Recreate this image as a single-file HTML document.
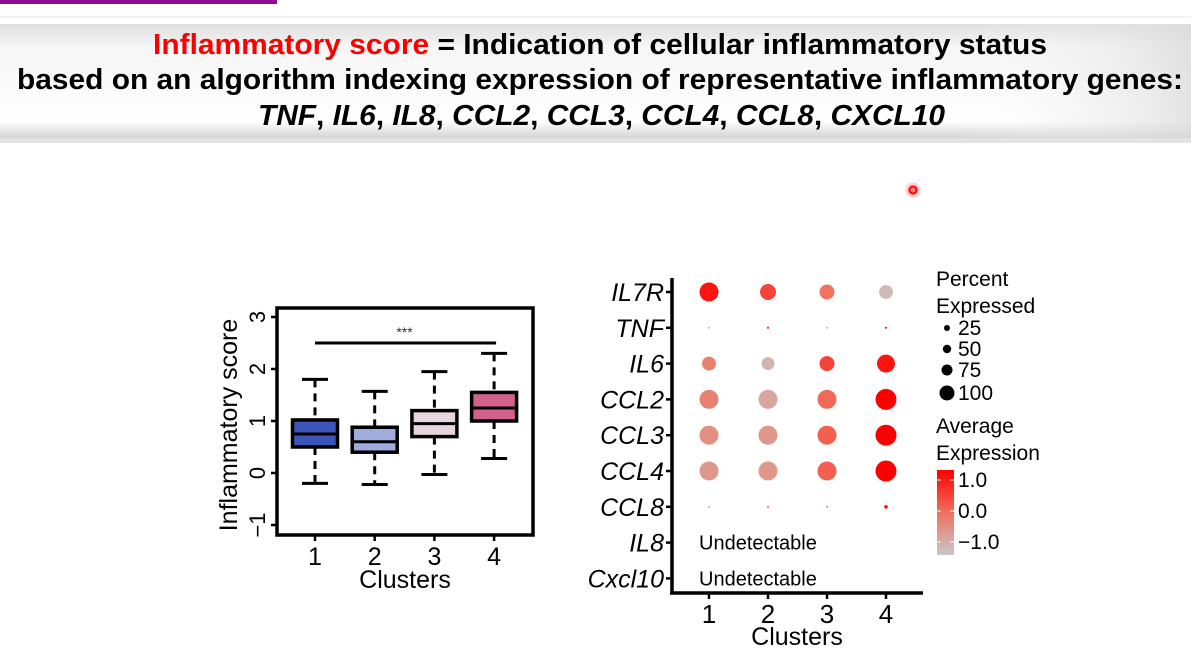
<!DOCTYPE html>
<html><head><meta charset="utf-8">
<style>
html,body{margin:0;padding:0;background:#fff;width:1191px;height:657px;overflow:hidden}
svg{display:block;font-family:"Liberation Sans",Arial,sans-serif}
</style></head>
<body>
<svg id="root" width="1191" height="657" viewBox="0 0 1191 657" xmlns="http://www.w3.org/2000/svg">
<defs>
<linearGradient id="bandg" x1="0" y1="0" x2="0" y2="1">
<stop offset="0" stop-color="#dedede"/><stop offset="0.2" stop-color="#f6f6f6"/><stop offset="0.85" stop-color="#ffffff"/><stop offset="1" stop-color="#d4d4d4"/></linearGradient>
<linearGradient id="bandh" x1="0" y1="0" x2="1" y2="0">
<stop offset="0" stop-color="#fff" stop-opacity="0"/><stop offset="0.8" stop-color="#fff" stop-opacity="0"/><stop offset="1" stop-color="#d8d8d8" stop-opacity="0.7"/></linearGradient>
<linearGradient id="cbar" x1="0" y1="1" x2="0" y2="0">
<stop offset="0" stop-color="#c8c8c8"/><stop offset="0.5" stop-color="#f07060"/><stop offset="1" stop-color="#ff0000"/></linearGradient>
<radialGradient id="glow"><stop offset="0" stop-color="#ff0000" stop-opacity="0.6"/><stop offset="1" stop-color="#ff0000" stop-opacity="0"/></radialGradient>
</defs>
<rect x="0" y="0" width="277" height="4" fill="#8e0a8e"/>
<line x1="0" y1="17" x2="1191" y2="17" stroke="#e4e4e4" stroke-width="1"/>
<g>
<rect x="0" y="138" width="1191" height="5" fill="#c8c8c8" opacity="0.5"/>
<rect x="0" y="24" width="1191" height="114" fill="url(#bandg)"/>
<rect x="0" y="24" width="1191" height="114" fill="url(#bandh)"/>
<text x="153" y="54" font-size="29" font-weight="bold" textLength="894" lengthAdjust="spacingAndGlyphs"><tspan fill="#ff0000">Inflammatory score</tspan><tspan fill="#000"> = Indication of cellular inflammatory status</tspan></text>
<text x="17" y="89" font-size="29" font-weight="bold" textLength="1166" lengthAdjust="spacingAndGlyphs">based on an algorithm indexing expression of representative inflammatory genes:</text>
<text x="258" y="125" font-size="29" font-weight="bold" textLength="687" lengthAdjust="spacingAndGlyphs"><tspan font-style="italic">TNF</tspan>, <tspan font-style="italic">IL6</tspan>, <tspan font-style="italic">IL8</tspan>, <tspan font-style="italic">CCL2</tspan>, <tspan font-style="italic">CCL3</tspan>, <tspan font-style="italic">CCL4</tspan>, <tspan font-style="italic">CCL8</tspan>, <tspan font-style="italic">CXCL10</tspan></text>
</g>
<g>
<circle cx="913" cy="190" r="9" fill="url(#glow)"/>
<circle cx="913" cy="190" r="3.5" fill="none" stroke="#ff0000" stroke-width="2"/>
</g>
<g id="box"></g>
<g id="dot"></g>
</svg>
<script>
// ---- Boxplot data ----
const boxCats = ["1","2","3","4"];
const boxLow = [-0.2, -0.22, -0.03, 0.28];
const boxQ1 = [0.5, 0.4, 0.7, 1.0];
const boxMed = [0.75, 0.6, 0.95, 1.25];
const boxQ3 = [1.02, 0.88, 1.2, 1.55];
const boxHigh = [1.8, 1.57, 1.95, 2.3];
const boxColors = ["#3b56b8","#9eacde","#e6d5de","#d2618c"];
const boxYTicks = [-1,0,1,2,3];
const sigLevel = 2.5;

// ---- Dot plot data ----
const genes = ["IL7R","TNF","IL6","CCL2","CCL3","CCL4","CCL8","IL8","Cxcl10"];
const dotCats = ["1","2","3","4"];
const pctC1 = [82, 1, 44, 82, 82, 82, 1, 0, 0];
const pctC2 = [58, 1, 38, 82, 82, 82, 1, 0, 0];
const pctC3 = [51, 1, 51, 82, 82, 82, 1, 0, 0];
const pctC4 = [44, 1, 73, 100, 100, 100, 3, 0, 0];
const expC1 = [1.0, -1, -0.2, -0.2, -0.4, -0.5, -0.8, 0, 0];
const expC2 = [0.5, 1, -0.9, -0.7, -0.5, -0.5, 0, 0, 0];
const expC3 = [0, -1, 0.5, 0.1, 0.2, 0.2, -0.3, 0, 0];
const expC4 = [-1, 1, 1.0, 1.2, 1.2, 1.2, 1, 0, 0];
const sizeLegend = [25, 50, 75, 100];
const colorTicks = [1.0, 0.0, -1.0];
const undetectable = ["IL8","Cxcl10"];

const NS="http://www.w3.org/2000/svg";
function mk(tag, attrs, parent){const e=document.createElementNS(NS,tag);for(const k in attrs)e.setAttribute(k,attrs[k]);parent.appendChild(e);return e;}

// Boxplot
const box=document.getElementById('box');


const bx=i=>315+i*59.7;
const by=v=>473-v*52;
const f1=mk('rect',{x:277,y:308,width:256,height:227,fill:'#fff',stroke:'#000','stroke-width':3.5},box);


boxYTicks.forEach(t=>{
  mk('line',{x1:271,x2:277,y1:by(t),y2:by(t),stroke:'#000','stroke-width':2.5},box);
  const tx=mk('text',{x:0,y:0,'font-size':22,'text-anchor':'middle',transform:`translate(265,${by(t)}) rotate(-90)`},box);
  tx.textContent=t<0?'\u2212'+Math.abs(t):String(t);
  
  
});
const yl=mk('text',{x:0,y:0,'font-size':25,'text-anchor':'middle',transform:'translate(237,425) rotate(-90)'},box);
yl.textContent='Inflammatory score';


boxCats.forEach((c,i)=>{
  const x=bx(i), w=45;
  const g=mk('g',{},box);
  
  
  mk('line',{x1:x,x2:x,y1:by(boxHigh[i]),y2:by(boxQ3[i]),stroke:'#000','stroke-width':3,'stroke-dasharray':'8,6'},g);
  mk('line',{x1:x,x2:x,y1:by(boxQ1[i]),y2:by(boxLow[i]),stroke:'#000','stroke-width':3,'stroke-dasharray':'8,6'},g);
  mk('line',{x1:x-13,x2:x+13,y1:by(boxHigh[i]),y2:by(boxHigh[i]),stroke:'#000','stroke-width':3},g);
  mk('line',{x1:x-13,x2:x+13,y1:by(boxLow[i]),y2:by(boxLow[i]),stroke:'#000','stroke-width':3},g);
  mk('rect',{x:x-w/2,y:by(boxQ3[i]),width:w,height:by(boxQ1[i])-by(boxQ3[i]),fill:boxColors[i],stroke:'#000','stroke-width':3.5},g);
  mk('line',{x1:x-w/2,x2:x+w/2,y1:by(boxMed[i]),y2:by(boxMed[i]),stroke:'#000','stroke-width':3},g);
  mk('line',{x1:x,x2:x,y1:535,y2:541,stroke:'#000','stroke-width':2.5},box);
  const t=mk('text',{x:x,y:565,'font-size':25,'text-anchor':'middle'},box);
  t.textContent=c;
  
  
});
const sb=mk('line',{x1:bx(0),x2:bx(3)+2,y1:by(sigLevel),y2:by(sigLevel),stroke:'#000','stroke-width':3},box);


const st=mk('text',{x:(bx(0)+bx(3))/2,y:by(sigLevel)-6,'font-size':14,'text-anchor':'middle',fill:'#333'},box);
st.textContent='***';


const xl=mk('text',{x:405,y:588,'font-size':25,'text-anchor':'middle'},box);
xl.textContent='Clusters';



// Dot plot
const dot=document.getElementById('dot');


const dx=i=>709+i*59;
const dy=i=>292+i*35.8;
const rad=p=>10.5*Math.sqrt(p/100);
function col(v){let t=(Math.max(-1.2,Math.min(1.2,v))+1.2)/2.4;
  let a,b,u;
  if(t<0.5){a=[200,200,200];b=[240,115,95];u=t/0.5;}else{a=[240,115,95];b=[255,0,0];u=(t-0.5)/0.5;}
  const c=a.map((x,k)=>Math.round(x+(b[k]-x)*u));return `rgb(${c[0]},${c[1]},${c[2]})`;}
const pcts=[pctC1,pctC2,pctC3,pctC4], exps=[expC1,expC2,expC3,expC4];
mk('line',{x1:672,x2:672,y1:278,y2:594,stroke:'#000','stroke-width':3.5},dot);
mk('line',{x1:670,x2:923,y1:593,y2:593,stroke:'#000','stroke-width':3.5},dot);
genes.forEach((gname,j)=>{
  mk('line',{x1:666,x2:672,y1:dy(j),y2:dy(j),stroke:'#000','stroke-width':2.5},dot);
  const t=mk('text',{x:664,y:dy(j)+9,'font-size':25,'font-style':'italic','text-anchor':'end'},dot);
  t.textContent=gname;
  
  
  dotCats.forEach((c,i)=>{
    const p=pcts[i][j];
    if(p>0){
      const cc=mk('circle',{cx:dx(i),cy:dy(j),r:Math.max(rad(p),0.9),fill:col(exps[i][j])},dot);
      
      
    }
  });
  if(undetectable.includes(gname)){
    const u=mk('text',{x:699,y:dy(j)+7,'font-size':20},dot);
    u.textContent='Undetectable';
    
    
  }
});
dotCats.forEach((c,i)=>{
  mk('line',{x1:dx(i),x2:dx(i),y1:593,y2:599,stroke:'#000','stroke-width':2.5},dot);
  const t=mk('text',{x:dx(i),y:623,'font-size':26,'text-anchor':'middle'},dot);
  t.textContent=c;
  
  
});
const dxl=mk('text',{x:797,y:645,'font-size':25,'text-anchor':'middle'},dot);
dxl.textContent='Clusters';



// Legends
const lg=mk('g',{},dot);


[['Percent',286],['Expressed',313],['Average',433],['Expression',460]].forEach(([s,y])=>{
  const t=mk('text',{x:936,y:y,'font-size':21},lg);t.textContent=s;
});
const legY=[328,349,370,393], legR=[3,4.2,5.5,7.5];
sizeLegend.forEach((p,k)=>{
  mk('circle',{cx:947,cy:legY[k],r:legR[k],fill:'#000'},lg);
  const t=mk('text',{x:958,y:legY[k]+7,'font-size':21},lg);t.textContent=String(p);
});
mk('rect',{x:937,y:470,width:17,height:85,fill:'url(#cbar)'},lg);
const cy=v=>511-v*31;
colorTicks.forEach(v=>{
  mk('line',{x1:937,x2:941,y1:cy(v),y2:cy(v),stroke:'#fff','stroke-width':1},lg);
  mk('line',{x1:950,x2:954,y1:cy(v),y2:cy(v),stroke:'#fff','stroke-width':1},lg);
  const t=mk('text',{x:958,y:cy(v)+7,'font-size':21},lg);
  t.textContent=(v<0?'\u2212':'')+Math.abs(v).toFixed(1);
});
</script>
</body></html>
